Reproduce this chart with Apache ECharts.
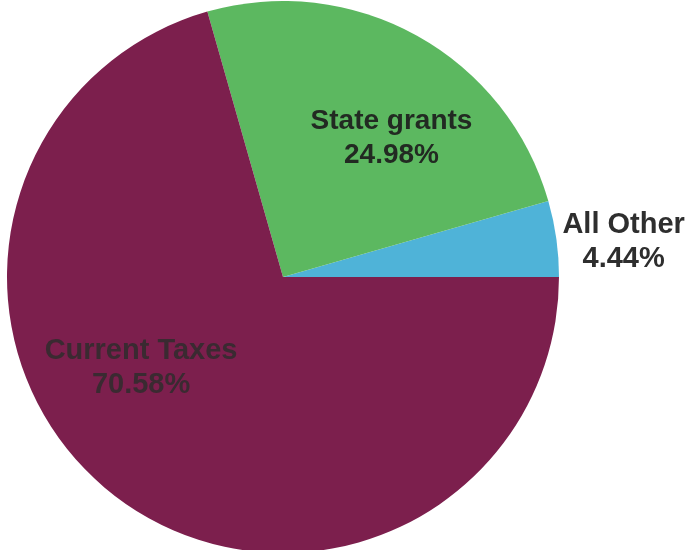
<!DOCTYPE html>
<html>
<head>
<meta charset="utf-8">
<script src="https://cdn.jsdelivr.net/npm/echarts@6/dist/echarts.min.js"></script>
<style>
  html, body { margin: 0; padding: 0; background: #fff; }
  #main { width: 687px; height: 550px; }
</style>
</head>
<body>
<div id="main"></div>
<script>
// revenue sources, order = counter-clockwise from 3 o'clock
var categories = ['All Other', 'State grants', 'Current Taxes'];
var shares = [4.44, 24.98, 70.58];
var colors = ['#4fb3d8', '#5cb860', '#7c1f4d'];
var textColors = ['#2e2e2e', '#222a22', '#3a2a31'];
var fontSizes = [29, 28, 29];
// label nudges from the default inside point
var offsets = [[201, -15], [40, -15], [-57, -22]];

var chart = echarts.init(document.getElementById('main'));

var data = [];
for (var i = 0; i < categories.length; i++) {
  data.push({
    name: categories[i],
    value: shares[i],
    itemStyle: { color: colors[i] },
    label: {
      color: textColors[i],
      fontSize: fontSizes[i],
      lineHeight: 34,
      offset: offsets[i]
    }
  });
}

chart.setOption({
  animation: false,
  series: [{
    type: 'pie',
    center: [283, 277],
    radius: 276,
    startAngle: 0,
    clockwise: false,
    avoidLabelOverlap: false,
    label: {
      show: true,
      position: 'inside',
      fontFamily: 'Liberation Sans, Arial, sans-serif',
      fontWeight: 'bold',
      formatter: function (p) {
        return p.name + '\n' + p.value.toFixed(2) + '%';
      }
    },
    labelLine: { show: false },
    emphasis: { disabled: true },
    data: data
  }]
});
</script>
</body>
</html>
